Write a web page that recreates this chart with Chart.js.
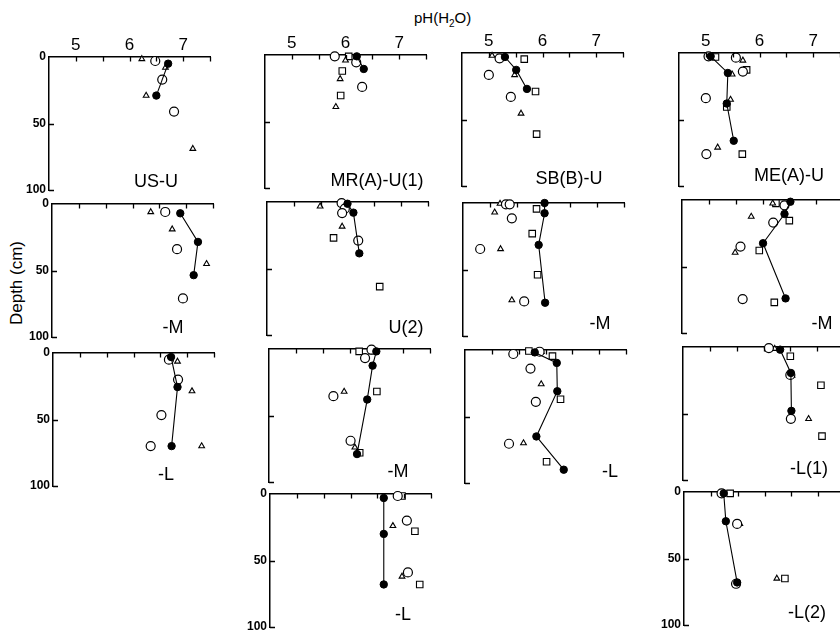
<!DOCTYPE html>
<html>
<head>
<meta charset="utf-8">
<script src="https://cdn.jsdelivr.net/npm/chart.js@4.4.1/dist/chart.umd.min.js"></script>
<style>
  html, body { margin: 0; padding: 0; background: #fff; width: 840px; height: 632px; overflow: hidden; }
  #wrap { position: relative; width: 840px; height: 632px; font-family: "Liberation Sans", Arial, sans-serif; color: #000; }
  #wrap canvas { position: absolute; }
  .plabel { position: absolute; font-size: 18px; line-height: 18px; transform: translate(-50%, -50%); white-space: nowrap; }
  #xtitle { position: absolute; left: 414px; top: 9px; font-size: 15px; white-space: nowrap; }
  #xtitle sub { font-size: 10px; }
  #ytitle { position: absolute; left: 17px; top: 283px; font-size: 17px; white-space: nowrap; transform: translate(-50%, -50%) rotate(-90deg); }
</style>
</head>
<body>
<div id="wrap">
  <div id="xtitle">pH(H<sub>2</sub>O)</div>
  <div id="ytitle">Depth (cm)</div>
</div>
<script>
// pH axis ticks (every half unit) and depth ticks
const phTicks = [4.5, 5, 5.5, 6, 6.5, 7, 7.5];
const depthTicks = [0, 50, 100];

// Each profile: [pH, depth cm]
// solid = connected filled circles, open = open circles, tri = triangles, sq = squares
const usU_solid = [[6.72, 5], [6.50, 29]];
const usU_open  = [[6.48, 3], [6.61, 17], [6.83, 41]];
const usU_tri   = [[6.23, 1.5], [6.67, 8], [6.31, 29], [7.18, 69]];
const usU_sq    = [];

const mrU1_solid = [[6.21, 1], [6.34, 10.5]];
const mrU1_open  = [[5.80, 1], [6.20, 5.5], [6.31, 24]];
const mrU1_tri   = [[6.00, 4], [5.90, 18], [5.82, 39]];
const mrU1_sq    = [[6.06, 1], [5.94, 12], [5.91, 30.5]];

const sbU_solid = [[5.30, 3], [5.51, 12.7], [5.71, 27]];
const sbU_open  = [[5.20, 4], [5.00, 16.5], [5.41, 33]];
const sbU_tri   = [[5.06, 2], [5.48, 16.5], [5.60, 45.5]];
const sbU_sq    = [[5.66, 4.6], [5.87, 29], [5.89, 61]];

const meU_solid = [[5.09, 2.5], [5.41, 15], [5.39, 38], [5.52, 66]];
const meU_open  = [[5.05, 2.5], [5.56, 3.5], [5.69, 14], [5.00, 34], [5.01, 76]];
const meU_tri   = [[5.69, 5.6], [5.49, 16], [5.46, 35], [5.22, 71]];
const meU_sq    = [[5.18, 3], [5.76, 12.7], [5.39, 40.6], [5.68, 76]];

const usM_solid = [[6.89, 7], [7.22, 28.5], [7.14, 53.5]];
const usM_open  = [[6.61, 6], [6.83, 34], [6.94, 71]];
const usM_tri   = [[6.34, 6], [6.74, 19], [7.38, 45], [7.63, 78]];
const usM_sq    = [];

const mrU2_solid = [[6.00, 1.3], [6.11, 8], [6.22, 38.6]];
const mrU2_open  = [[5.89, 0.8], [5.95, 5], [5.90, 8.3], [6.20, 29]];
const mrU2_tri   = [[5.49, 3.3], [5.90, 18.4], [6.22, 39]];
const mrU2_sq    = [[5.74, 27], [6.60, 63.6]];

const sbM_solid = [[6.02, 0], [6.02, 7.7], [5.91, 31.5], [6.03, 75]];
const sbM_open  = [[5.30, 1], [5.37, 1], [5.41, 11.5], [4.82, 34.6], [5.64, 74]];
const sbM_tri   = [[5.19, 0.5], [5.09, 7], [5.20, 34.6], [5.41, 73]];
const sbM_sq    = [[5.87, 4.4], [5.79, 23], [5.89, 54]];

const meM_solid = [[6.52, 1.3], [6.41, 10.5], [6.01, 32.5], [6.43, 74]];
const meM_open  = [[6.41, 4], [6.20, 17], [5.59, 35], [5.63, 74.5]];
const meM_tri   = [[6.19, 2.5], [5.79, 12.5], [5.49, 39.5], [5.63, 74.5]];
const meM_sq    = [[6.25, 2.5], [6.50, 15.5], [5.94, 38], [6.22, 77]];

const usL_solid = [[6.70, 3], [6.82, 25.6], [6.71, 70]];
const usL_open  = [[6.66, 5], [6.83, 20], [6.52, 46.7], [6.32, 70]];
const usL_tri   = [[6.82, 6.4], [7.09, 28.7], [7.27, 70]];
const usL_sq    = [];

const mrM_solid = [[6.50, 1.8], [6.43, 12.5], [6.33, 38], [6.14, 79]];
const mrM_open  = [[6.41, 0.5], [6.29, 6.8], [5.70, 35.5], [6.02, 69]];
const mrM_tri   = [[6.41, 2.5], [5.90, 32], [6.10, 74]];
const mrM_sq    = [[6.18, 1.8], [6.51, 32], [6.19, 78]];

const sbL_solid = [[5.80, 1.8], [6.21, 9.7], [6.22, 31], [5.83, 65], [6.34, 90]];
const sbL_open  = [[5.40, 3], [5.89, 1.3], [5.72, 14], [5.82, 39], [5.32, 70.5]];
const sbL_tri   = [[5.92, 1.3], [5.92, 25.6], [5.59, 70]];
const sbL_sq    = [[5.69, 0.8], [6.13, 4.6], [6.28, 37], [6.02, 84]];

const meL1_solid = [[6.31, 2], [6.51, 19.5], [6.52, 48]];
const meL1_open  = [[6.10, 0.8], [6.50, 21], [6.51, 54]];
const meL1_tri   = [[6.21, 1.3], [6.53, 21.5], [6.84, 54]];
const meL1_sq    = [[6.50, 7], [7.07, 28.8], [7.09, 67]];

const mrL_solid = [[6.62, 3], [6.62, 30], [6.62, 68]];
const mrL_open  = [[6.88, 1.5], [7.05, 20], [7.07, 59]];
const mrL_tri   = [[6.79, 24], [6.96, 62]];
const mrL_sq    = [[6.96, 1.5], [7.20, 28], [7.29, 68]];

const meL2_solid = [[5.24, 1], [5.28, 22], [5.49, 68]];
const meL2_open  = [[5.20, 1], [5.49, 24], [5.47, 69]];
const meL2_tri   = [[5.54, 24], [6.23, 65]];
const meL2_sq    = [[5.36, 1], [6.38, 65]];

// Panel frames: plot-area left/top in page pixels, label and its centre
const PW = 161, PH = 133;
const panels = [
  { left: 49,  top: 57,  name: 'US-U',       lx: 156, ly: 181, xl: true,  yl: true,  s: [usU_solid, usU_open, usU_tri, usU_sq] },
  { left: 265, top: 55,  name: 'MR(A)-U(1)', lx: 377, ly: 180, xl: true,  yl: false, s: [mrU1_solid, mrU1_open, mrU1_tri, mrU1_sq] },
  { left: 462, top: 53,  name: 'SB(B)-U',    lx: 569, ly: 178, xl: true,  yl: false, s: [sbU_solid, sbU_open, sbU_tri, sbU_sq] },
  { left: 679, top: 53,  name: 'ME(A)-U',    lx: 789, ly: 175, xl: true,  yl: false, s: [meU_solid, meU_open, meU_tri, meU_sq] },
  { left: 52,  top: 204, name: '-M',         lx: 173, ly: 327, xl: false, yl: true,  s: [usM_solid, usM_open, usM_tri, usM_sq] },
  { left: 267, top: 202, name: 'U(2)',       lx: 406, ly: 327, xl: false, yl: false, s: [mrU2_solid, mrU2_open, mrU2_tri, mrU2_sq] },
  { left: 463, top: 203, name: '-M',         lx: 600, ly: 323, xl: false, yl: false, s: [sbM_solid, sbM_open, sbM_tri, sbM_sq] },
  { left: 682, top: 200, name: '-M',         lx: 822, ly: 323, xl: false, yl: false, s: [meM_solid, meM_open, meM_tri, meM_sq] },
  { left: 53,  top: 353, name: '-L',         lx: 166, ly: 474, xl: false, yl: true,  s: [usL_solid, usL_open, usL_tri, usL_sq] },
  { left: 269, top: 349, name: '-M',         lx: 398, ly: 471, xl: false, yl: false, s: [mrM_solid, mrM_open, mrM_tri, mrM_sq] },
  { left: 465, top: 350, name: '-L',         lx: 610, ly: 471, xl: false, yl: false, s: [sbL_solid, sbL_open, sbL_tri, sbL_sq] },
  { left: 683, top: 347, name: '-L(1)',      lx: 809, ly: 468, xl: false, yl: false, s: [meL1_solid, meL1_open, meL1_tri, meL1_sq] },
  { left: 270, top: 494, name: '-L',         lx: 403, ly: 614, xl: false, yl: true,  s: [mrL_solid, mrL_open, mrL_tri, mrL_sq] },
  { left: 684, top: 492, name: '-L(2)',      lx: 807, ly: 612, xl: false, yl: true,  s: [meL2_solid, meL2_open, meL2_tri, meL2_sq] }
];

const FONT = '"Liberation Sans", Arial, sans-serif';
const PADL = 45, PADT = 40, PADR = 8, PADB = 12;

// short tick marks pointing into the plot area
const inwardTicks = {
  id: 'inwardTicks',
  afterDraw(chart) {
    const { ctx, chartArea: a, scales: { x, y } } = chart;
    ctx.save();
    ctx.strokeStyle = '#000';
    ctx.lineWidth = 1.3;
    ctx.beginPath();
    x.ticks.forEach(t => {
      if (t.value <= x.min) return;
      const px = Math.round(x.getPixelForValue(t.value)) + 0.5;
      ctx.moveTo(px, a.top);
      ctx.lineTo(px, a.top + 4.5);
    });
    y.ticks.forEach(t => {
      if (t.value <= y.min) return;
      const py = Math.round(y.getPixelForValue(t.value)) + 0.5;
      ctx.moveTo(a.left, py);
      ctx.lineTo(a.left + 5, py);
    });
    ctx.stroke();
    ctx.restore();
  }
};

function series(points, kind) {
  const base = {
    data: points.map(([x, y]) => ({ x, y })),
    clip: false,
    borderColor: '#000',
    pointBorderColor: '#000',
    showLine: false
  };
  if (kind === 0) return { ...base, showLine: true, borderWidth: 1.1, pointStyle: 'circle', pointRadius: 3.7, pointBackgroundColor: '#000', pointBorderWidth: 1 };
  if (kind === 1) return { ...base, pointStyle: 'circle', pointRadius: 4.5, pointBackgroundColor: '#fff', pointBorderWidth: 1.2 };
  if (kind === 2) return { ...base, pointStyle: 'triangle', pointRadius: 3.3, pointBackgroundColor: '#fff', pointBorderWidth: 1.1 };
  return { ...base, pointStyle: 'rect', pointRadius: 4.6, pointBackgroundColor: '#fff', pointBorderWidth: 1.1 };
}

const wrap = document.getElementById('wrap');

panels.forEach(p => {
  const cv = document.createElement('canvas');
  const w = PADL + PW + PADR, h = PADT + PH + PADB;
  cv.width = w; cv.height = h;
  cv.style.left = (p.left - PADL) + 'px';
  cv.style.top = (p.top - PADT) + 'px';
  cv.style.width = w + 'px'; cv.style.height = h + 'px';
  wrap.appendChild(cv);

  new Chart(cv, {
    type: 'scatter',
    data: { datasets: p.s.map((pts, i) => series(pts, i)) },
    options: {
      responsive: false,
      animation: false,
      events: [],
      layout: { autoPadding: false, padding: { left: 0, top: 0, right: PADR, bottom: PADB } },
      plugins: { legend: { display: false }, tooltip: { enabled: false } },
      scales: {
        x: {
          type: 'linear', position: 'top', min: 4.5, max: 7.5,
          afterFit: s => { s.height = PADT; },
          afterBuildTicks: s => { s.ticks = phTicks.map(v => ({ value: v })); },
          grid: { display: false, drawTicks: false },
          border: { display: true, color: '#000', width: 1.5 },
          ticks: {
            display: p.xl, autoSkip: false, maxRotation: 0, padding: 1, color: '#000',
            font: { family: FONT, size: 17 },
            callback: v => (Number.isInteger(v) && v > 4.5 && v < 7.5) ? String(v) : ''
          }
        },
        y: {
          type: 'linear', reverse: true, min: 0, max: 100,
          afterFit: s => { s.width = PADL; },
          afterBuildTicks: s => { s.ticks = depthTicks.map(v => ({ value: v })); },
          grid: { display: false, drawTicks: false },
          border: { display: true, color: '#000', width: 1.5 },
          ticks: {
            display: p.yl, autoSkip: false, padding: 3, color: '#000',
            font: { family: FONT, size: 12, weight: 'bold' },
            callback: v => String(v)
          }
        }
      }
    },
    plugins: [inwardTicks]
  });

  const lab = document.createElement('div');
  lab.className = 'plabel';
  lab.textContent = p.name;
  lab.style.left = p.lx + 'px';
  lab.style.top = p.ly + 'px';
  wrap.appendChild(lab);
});
</script>
</body>
</html>
